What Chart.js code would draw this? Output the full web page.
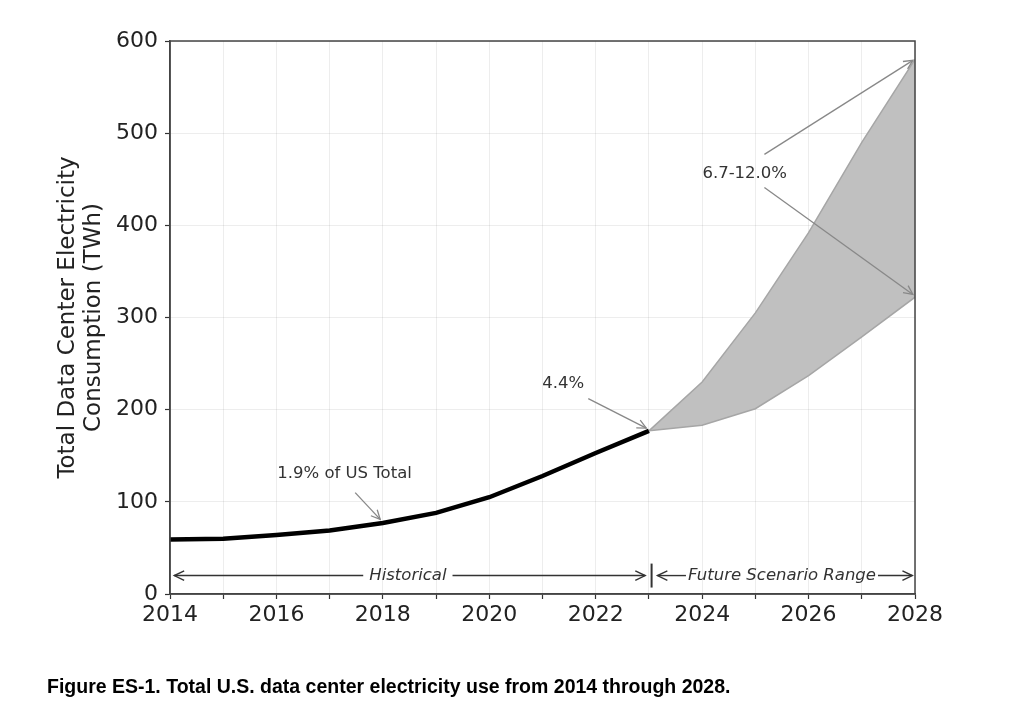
<!DOCTYPE html>
<html>
<head>
<meta charset="utf-8">
<script src="https://cdn.jsdelivr.net/npm/chart.js@4/dist/chart.umd.min.js"></script>
<style>
  body { margin: 0; background: #fff; }
  #wrap { position: relative; width: 1024px; height: 709px; }
  #caption {
    position: absolute; left: 47px; top: 675px;
    font: bold 19.5px "Liberation Sans", Arial, sans-serif; color: #000;
  }
</style>
</head>
<body>
<div id="wrap">
  <canvas id="chart" width="1024" height="709"></canvas>
  <div id="caption">Figure ES-1. Total U.S. data center electricity use from 2014 through 2028.</div>
</div>
<script>
const historicalYears = [2014, 2015, 2016, 2017, 2018, 2019, 2020, 2021, 2022, 2023]
const historicalTWh = [59, 60, 64, 69, 77, 88, 105, 128, 153, 177]
const futureYears = [2023, 2024, 2025, 2026, 2027, 2028]
const futureHigh = [177, 230, 305, 392, 490, 580]
const futureLow = [177, 183, 201, 237, 279, 322]

// annotation text and arrows, in data units (year, TWh)
const notes = [
  { text: '1.9% of US Total', at: [2017.28, 131], arrows: [[[2017.48, 110], [2017.95, 81]]] },
  { text: '4.4%', at: [2021.39, 228], arrows: [[[2021.86, 212], [2022.95, 180]]] },
  { text: '6.7-12.0%', at: [2024.8, 456], arrows: [[[2025.17, 477], [2027.96, 579]], [[2025.17, 441], [2027.96, 325]]] }
]

const fontFamily = '"DejaVu Sans", sans-serif'

function arrowHead(ctx, x1, y1, x2, y2, size) {
  const a = Math.atan2(y2 - y1, x2 - x1)
  ctx.beginPath()
  ctx.moveTo(x2 - size * Math.cos(a - 0.45), y2 - size * Math.sin(a - 0.45))
  ctx.lineTo(x2, y2)
  ctx.lineTo(x2 - size * Math.cos(a + 0.45), y2 - size * Math.sin(a + 0.45))
  ctx.stroke()
}

function arrow(ctx, x1, y1, x2, y2, size) {
  ctx.beginPath()
  ctx.moveTo(x1, y1)
  ctx.lineTo(x2, y2)
  ctx.stroke()
  arrowHead(ctx, x1, y1, x2, y2, size)
}

const annotations = {
  id: 'annotations',
  afterDatasetsDraw(chart) {
    const { ctx, chartArea, scales: { x, y } } = chart
    ctx.save()

    // frame on all four sides
    ctx.strokeStyle = '#444'
    ctx.lineWidth = 1.5
    ctx.strokeRect(chartArea.left, chartArea.top, chartArea.right - chartArea.left, chartArea.bottom - chartArea.top)

    // callouts
    ctx.font = '16.5px ' + fontFamily
    ctx.textAlign = 'center'
    ctx.textBaseline = 'middle'
    notes.forEach(n => {
      ctx.fillStyle = '#333'
      ctx.fillText(n.text, x.getPixelForValue(n.at[0]), y.getPixelForValue(n.at[1]))
      ctx.strokeStyle = '#888'
      ctx.lineWidth = 1.3
      n.arrows.forEach(([from, to]) => {
        arrow(ctx, x.getPixelForValue(from[0]), y.getPixelForValue(from[1]),
          x.getPixelForValue(to[0]), y.getPixelForValue(to[1]), 10)
      })
    })

    // period markers along the bottom
    const rowY = y.getPixelForValue(20)
    ctx.strokeStyle = '#333'
    ctx.fillStyle = '#333'
    ctx.lineWidth = 1.4
    ctx.font = 'italic 16.5px ' + fontFamily

    const hx = x.getPixelForValue(2018.47)
    ctx.fillText('Historical', hx, rowY)
    const hw = ctx.measureText('Historical').width / 2 + 6
    arrow(ctx, hx - hw, rowY, x.getPixelForValue(2014.08), rowY, 11)
    arrow(ctx, hx + hw, rowY, x.getPixelForValue(2022.93), rowY, 11)

    const bx = x.getPixelForValue(2023.05)
    ctx.lineWidth = 2
    ctx.beginPath()
    ctx.moveTo(bx, y.getPixelForValue(33))
    ctx.lineTo(bx, y.getPixelForValue(7))
    ctx.stroke()
    ctx.lineWidth = 1.4

    const fx = x.getPixelForValue(2025.5)
    ctx.fillText('Future Scenario Range', fx, rowY)
    const fw = ctx.measureText('Future Scenario Range').width / 2 + 2
    arrow(ctx, fx - fw, rowY, x.getPixelForValue(2023.16), rowY, 11)
    arrow(ctx, fx + fw, rowY, x.getPixelForValue(2027.95), rowY, 11)

    ctx.restore()
  }
}

new Chart(document.getElementById('chart'), {
  type: 'line',
  data: {
    datasets: [
      {
        label: 'Historical',
        data: historicalYears.map((yr, i) => ({ x: yr, y: historicalTWh[i] })),
        borderColor: '#000',
        borderWidth: 4.5,
        pointRadius: 0,
        fill: false,
        order: 0
      },
      {
        label: 'High scenario',
        data: futureYears.map((yr, i) => ({ x: yr, y: futureHigh[i] })),
        borderColor: '#a6a6a6',
        borderWidth: 1.5,
        backgroundColor: 'rgba(192, 192, 192, 1)',
        pointRadius: 0,
        fill: '+1',
        order: 2
      },
      {
        label: 'Low scenario',
        data: futureYears.map((yr, i) => ({ x: yr, y: futureLow[i] })),
        borderColor: '#a6a6a6',
        borderWidth: 1.5,
        pointRadius: 0,
        fill: false,
        order: 1
      }
    ]
  },
  options: {
    responsive: false,
    animation: false,
    layout: { padding: { left: 0, right: 109, top: 41, bottom: 75 } },
    plugins: {
      legend: { display: false },
      tooltip: { enabled: false }
    },
    scales: {
      x: {
        type: 'linear',
        min: 2014,
        max: 2028,
        afterFit: scale => { scale.height = 40 },
        grid: { color: 'rgba(0, 0, 0, 0.07)', tickColor: '#333', tickLength: 5, tickWidth: 1.2 },
        border: { color: '#444', width: 1.5 },
        ticks: {
          stepSize: 1,
          padding: 3,
          color: '#222',
          maxRotation: 0,
          autoSkip: false,
          font: { family: fontFamily, size: 22 },
          callback: value => (value % 2 === 0 ? String(value) : '')
        }
      },
      y: {
        min: 0,
        max: 600,
        afterFit: scale => { scale.width = 170 },
        grid: { color: 'rgba(0, 0, 0, 0.07)', tickColor: '#333', tickLength: 5, tickWidth: 1.2 },
        border: { color: '#444', width: 1.5 },
        ticks: {
          stepSize: 100,
          padding: 7,
          color: '#222',
          font: { family: fontFamily, size: 22 }
        },
        title: {
          display: true,
          text: ['Total Data Center Electricity', 'Consumption (TWh)'],
          color: '#222',
          font: { family: fontFamily, size: 23, lineHeight: 1.12 },
          padding: { top: 55, bottom: 0 }
        }
      }
    }
  },
  plugins: [annotations]
})
</script>
</body>
</html>
